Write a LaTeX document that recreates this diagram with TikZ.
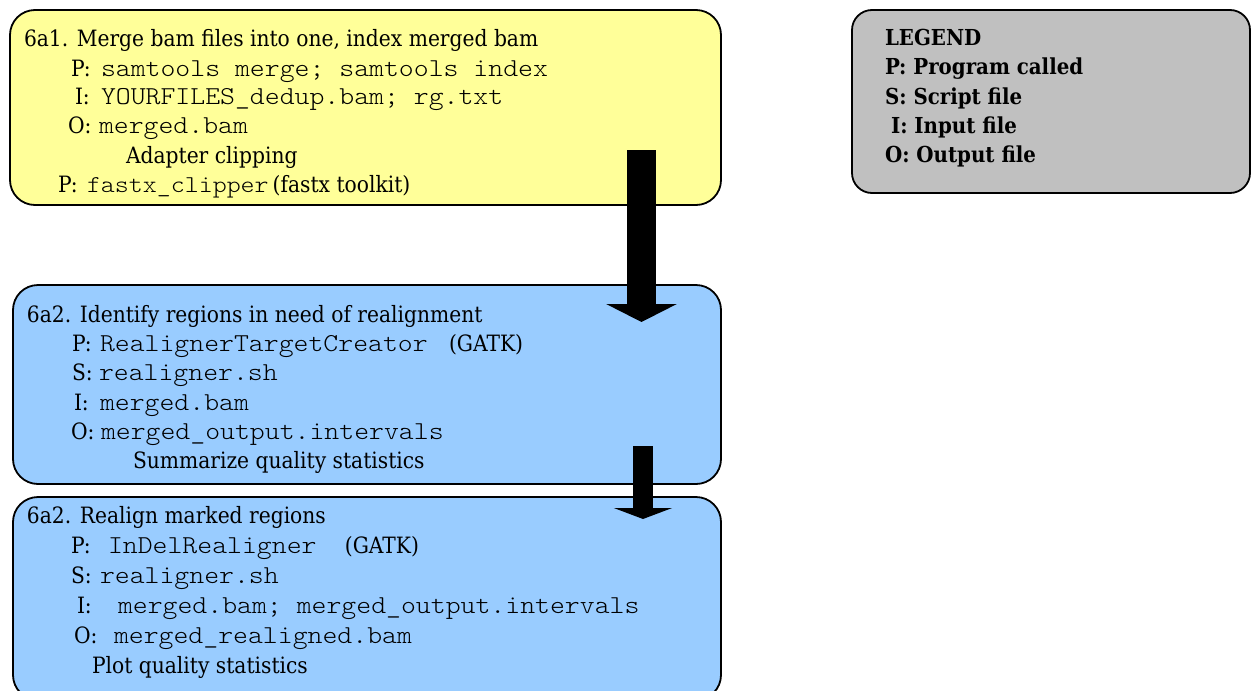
\documentclass[tikz,border=0pt]{standalone}
\usepackage{fontspec}
\setmainfont{DejaVu Serif}[FakeStretch=0.9]
\setmonofont{lmmonolt10-regular.otf}[FakeStretch=1.1]
\usetikzlibrary{arrows.meta}
\definecolor{ylw}{HTML}{FFFF99}
\definecolor{blu}{HTML}{99CCFF}
\definecolor{gry}{HTML}{C0C0C0}
\begin{document}
\begin{tikzpicture}[x=1pt,y=-1pt,
  box/.style={draw=black,line width=1.8pt,rounded corners=25pt,inner sep=0pt,outer sep=0pt},
  txt/.style={anchor=base west,inner sep=0pt,outer sep=0pt,font=\fontsize{22.5}{27}\selectfont},
  code/.style={anchor=base west,inner sep=0pt,outer sep=0pt,font=\fontsize{25.8}{30}\selectfont\ttfamily},
  leg/.style={anchor=base west,inner sep=0pt,outer sep=0pt,font=\fontsize{22}{26}\selectfont\bfseries},
  blockarrow/.style={line cap=butt}]
\useasboundingbox (0,0) rectangle (1251,691);
\clip (0,0) rectangle (1251,691);
% boxes
\node[box,fill=ylw,minimum width=711pt,minimum height=195pt] (s1) at (365.5,107.5) {};
\node[box,fill=blu,minimum width=708pt,minimum height=199pt] (s2) at (367,384.5) {};
\node[box,fill=blu,minimum width=708pt,minimum height=203pt] (s3) at (367,598.5) {};
\node[box,fill=gry,rounded corners=20pt,minimum width=398pt,minimum height=183pt] (lg) at (1051,101.5) {};
% arrows
\coordinate (a1s) at (641.5,150);
\coordinate (a1e) at (641.5,322);
\coordinate (a2s) at (643,446);
\coordinate (a2e) at (643,519);
\draw[blockarrow,line width=29pt,-{Triangle[width=70pt,length=18pt]}] (a1s) -- (a1e);
\draw[blockarrow,line width=20pt,-{Triangle[width=58pt,length=11pt]}] (a2s) -- (a2e);
% step 1 text
\node[txt] (t11) at (24,46.5) {6a1. Merge bam files into one, index merged bam};
\node[txt] (t12a) at (71,76) {P:};
\node[code] (t12b) at (101,76) {samtools merge; samtools index};
\node[txt] (t13a) at (75,104.5) {I:};
\node[code] (t13b) at (101,104.5) {YOURFILES\_dedup.bam; rg.txt};
\node[txt] (t14a) at (68,133.5) {O:};
\node[code] (t14b) at (99,133.5) {merged.bam};
\node[txt] (t15) at (126,163) {Adapter clipping};
\node[txt] (t16a) at (58,192.5) {P:};
\node[code,font=\fontsize{24.2}{29}\selectfont\ttfamily] (t16b) at (87,192.5) {fastx\_clipper};
\node[txt,anchor=base west] (t16c) at ([xshift=4pt]t16b.base east) {(fastx toolkit)};
% step 2 text
\node[txt] (t21) at (27,322) {6a2. Identify regions in need of realignment};
\node[txt] (t22a) at (72,351.5) {P:};
\node[code] (t22b) at (100,351.5) {RealignerTargetCreator};
\node[txt] (t22c) at (449,351.5) {(GATK)};
\node[txt] (t23a) at (72,380.5) {S:};
\node[code] (t23b) at (99,380.5) {realigner.sh};
\node[txt] (t24a) at (74,410) {I:};
\node[code] (t24b) at (100,410) {merged.bam};
\node[txt] (t25a) at (71,439.5) {O:};
\node[code] (t25b) at (101,439.5) {merged\_output.intervals};
\node[txt] (t26) at (133,468.5) {Summarize quality statistics};
% step 3 text
\node[txt] (t31) at (27,523) {6a2. Realign marked regions};
\node[txt] (t32a) at (71,553) {P:};
\node[code] (t32b) at (108,553) {InDelRealigner};
\node[txt,anchor=base east] (t32c) at (419,553) {(GATK)};
\node[txt] (t33a) at (71,583) {S:};
\node[code] (t33b) at (100,583) {realigner.sh};
\node[txt] (t34a) at (77,613) {I:};
\node[code] (t34b) at (118,613) {merged.bam; merged\_output.intervals};
\node[txt] (t35a) at (74,643) {O:};
\node[code] (t35b) at (114,643) {merged\_realigned.bam};
\node[txt] (t36) at (92,673) {Plot quality statistics};
% legend
\node[leg] (l1) at (885,45) {LEGEND};
\node[leg] (l2) at (885,74.5) {P: Program called};
\node[leg] (l3) at (885,104) {S: Script file};
\node[leg] (l4) at (891,133) {I: Input file};
\node[leg] (l5) at (885,162) {O: Output file};
\end{tikzpicture}
\end{document}
